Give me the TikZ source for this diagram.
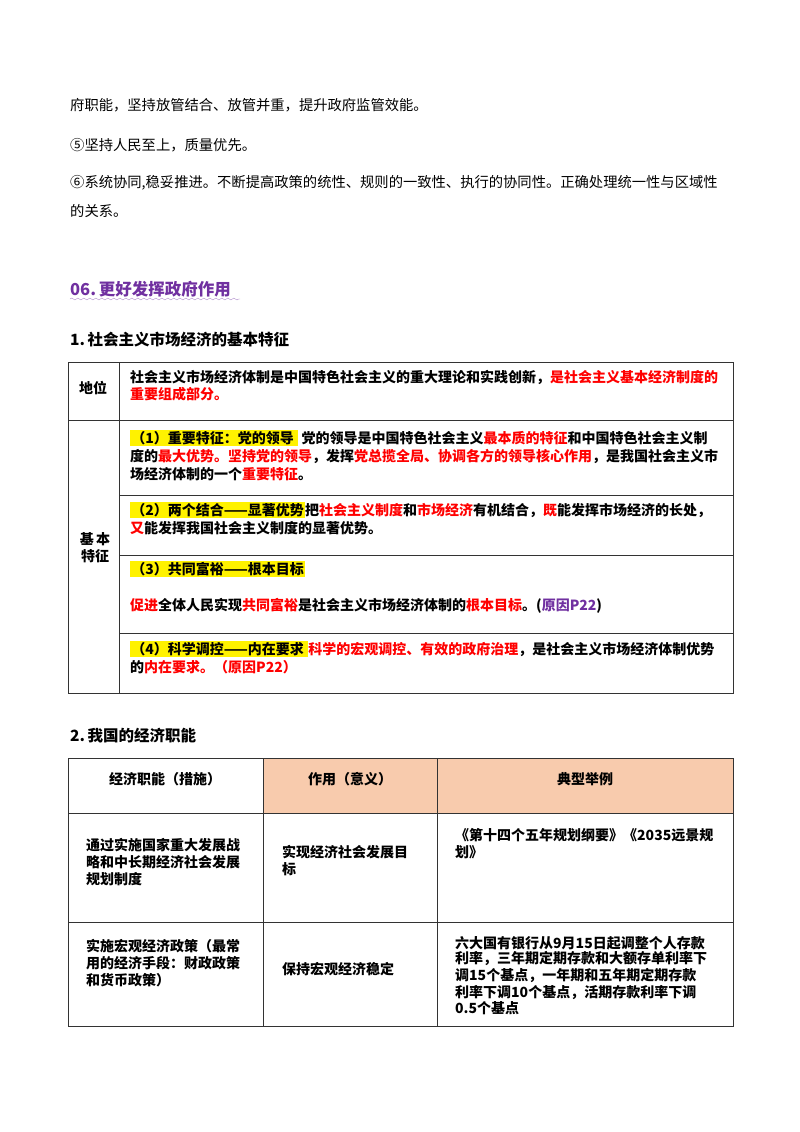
\documentclass[tikz,border=0pt]{standalone}
\usepackage{fontspec}
\setmainfont{Noto Sans CJK SC}
\usetikzlibrary{decorations.pathmorphing}
\definecolor{hdr}{HTML}{F8CBAD}
\definecolor{pur}{HTML}{7030A0}
\definecolor{rd}{HTML}{FF0000}
\newcommand{\R}[1]{\textcolor{rd}{#1}}
\newcommand{\HL}[1]{{\setlength{\fboxsep}{1.2pt}\colorbox{yellow}{#1}}}
\tikzset{
  para/.style={anchor=west, inner sep=0pt, font=\fontsize{14.3}{14}\selectfont},
  tx/.style={anchor=west, inner sep=0pt, font=\fontsize{14}{14}\selectfont\bfseries},
  cc/.style={inner sep=0pt, font=\fontsize{14}{14}\selectfont\bfseries},
  grid/.style={draw=black!80, line width=0.9pt}
}
\begin{document}
\begin{tikzpicture}[x=1pt,y=-1pt]
\useasboundingbox (0,0) rectangle (800,1132);
% top paragraph
\node[para] (p1) at (70,105) {府职能，坚持放管结合、放管并重，提升政府监管效能。};
\node[para] (p2) at (70,145) {⑤坚持人民至上，质量优先。};
\node[para] (p3) at (70,183) {⑥系统协同,稳妥推进。不断提高政策的统性、规则的一致性、执行的协同性。正确处理统一性与区域性};
\node[para] (p4) at (70,211) {的关系。};
\node[anchor=west, inner sep=0pt, text=pur, font=\fontsize{16.5}{16}\selectfont\bfseries] (h1) at (70,289) {06.\,更好发挥政府作用};
\draw[pur!60, decorate, decoration={snake, amplitude=1pt, segment length=6pt}] (70,299) -- (240,299);
\node[anchor=west, inner sep=0pt, font=\fontsize{15.5}{15}\selectfont\bfseries] (h2) at (70,340) {1.\,社会主义市场经济的基本特征};
% table 1
\draw[grid] (68,362) rectangle (733,693);
\draw[grid] (119,362) -- (119,693);
\draw[grid] (68,420) -- (733,420);
\draw[grid] (119,495) -- (733,495);
\draw[grid] (119,555) -- (733,555);
\draw[grid] (119,633) -- (733,633);
\node[cc] (d0) at (93,388) {地位};
\node[cc, align=center] (jb) at (95,548) {基\,本\\[3pt]特征};
\node[tx] (a1) at (130,377) {社会主义市场经济体制是中国特色社会主义的重大理论和实践创新，\R{是社会主义基本经济制度的}};
\node[tx] (a2) at (130,394) {\R{重要组成部分。}};
\node[tx] (b1) at (130,438) {\HL{（1）重要特征：党的领导 }\ 党的领导是中国特色社会主义\R{最本质的特征}和中国特色社会主义制};
\node[tx] (b2) at (130,456) {度的\R{最大优势。坚持党的领导}，发挥\R{党总揽全局、协调各方的领导核心作用}，是我国社会主义市};
\node[tx] (b3) at (130,474) {场经济体制的一个\R{重要特征}。};
\node[tx] (c1) at (130,510) {\HL{（2）两个结合——显著优势}把\R{社会主义制度}和\R{市场经济}有机结合，\R{既}能发挥市场经济的长处，};
\node[tx] (c2) at (130,528) {\R{又}能发挥我国社会主义制度的显著优势。};
\node[tx] (e1) at (130,569) {\HL{（3）共同富裕——根本目标}};
\node[tx] (e2) at (130,606) {\R{促进}全体人民实现\R{共同富裕}是社会主义市场经济体制的\R{根本目标}。(\textcolor{pur}{原因P22})};
\node[tx] (f1) at (130,649) {\HL{（4）科学调控——内在要求 }\R{科学的宏观调控、有效的政府治理}，是社会主义市场经济体制优势};
\node[tx] (f2) at (130,667) {的\R{内在要求。（原因P22）}};
% heading 2
\node[anchor=west, inner sep=0pt, font=\fontsize{15.5}{15}\selectfont\bfseries] (h3) at (70,736) {2.\,我国的经济职能};
% table 2
\fill[hdr] (263,758) rectangle (733,813);
\draw[grid] (68,758) rectangle (733,1026);
\draw[grid] (263,758) -- (263,1026);
\draw[grid] (437,758) -- (437,1026);
\draw[grid] (68,813) -- (733,813);
\draw[grid] (68,922) -- (733,922);
\node[cc] (g1) at (165,779) {经济职能（措施）};
\node[cc] (g2) at (350,779) {作用（意义）};
\node[cc] (g3) at (585,779) {典型举例};
\node[tx, align=left, anchor=north west] (r1a) at (86,838) {通过实施国家重大发展战\\[3pt]略和中长期经济社会发展\\[3pt]规划制度};
\node[tx, align=left, anchor=north west] (r1b) at (282,845) {实现经济社会发展目\\[3pt]标};
\node[tx, align=left, anchor=north west] (r1c) at (455,828) {《第十四个五年规划纲要》《2035远景规\\[3pt]划》};
\node[tx, align=left, anchor=north west] (r2a) at (86,939) {实施宏观经济政策（最常\\[3pt]用的经济手段：财政政策\\[3pt]和货币政策）};
\node[tx] (r2b) at (282,969) {保持宏观经济稳定};
\node[tx, align=left, anchor=north west] (r2c) at (455,936) {六大国有银行从9月15日起调整个人存款\\[1.5pt]利率，三年期定期存款和大额存单利率下\\[1.5pt]调15个基点，一年期和五年期定期存款\\[1.5pt]利率下调10个基点，活期存款利率下调\\[1.5pt]0.5个基点};
\end{tikzpicture}
\end{document}
